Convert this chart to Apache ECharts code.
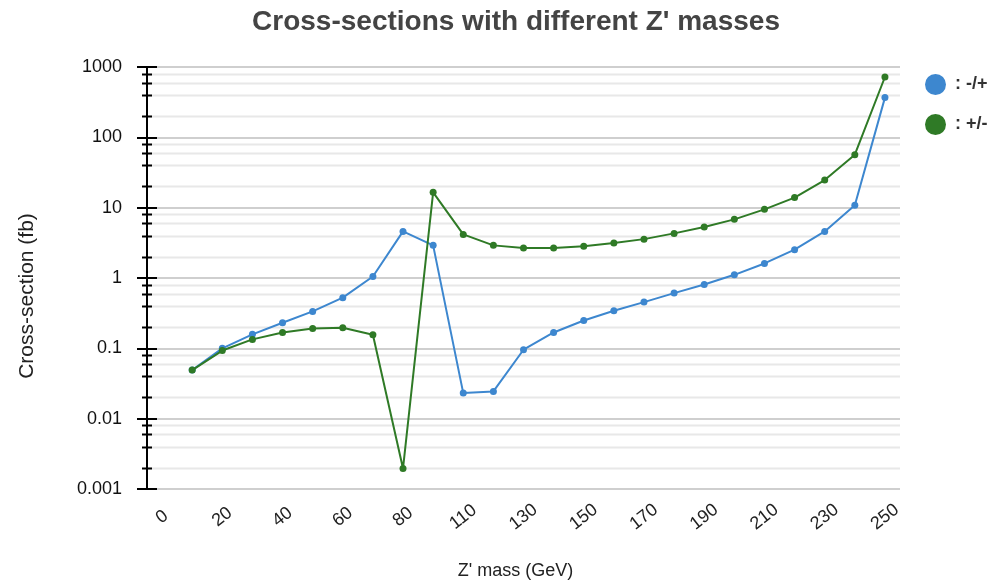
<!DOCTYPE html>
<html>
<head>
<meta charset="utf-8">
<script src="https://cdn.jsdelivr.net/npm/echarts@6/dist/echarts.min.js"></script>
<style>html,body{margin:0;padding:0;background:#fff}#c{width:1000px;height:586px}</style>
</head>
<body>
<div id="c"></div>
<script>
const categories = ['0','10','20','30','40','50','60','70','80','90','110','120','130','140','150','160','170','180','190','200','210','220','230','240','250'];
const seriesMinusPlus = ['-', 0.049, 0.10, 0.158, 0.231, 0.335, 0.525, 1.05, 4.6, 2.91, 0.0231, 0.0244, 0.0955, 0.168, 0.249, 0.343, 0.454, 0.61, 0.81, 1.11, 1.61, 2.53, 4.6, 10.8, 367];
const seriesPlusMinus = ['-', 0.049, 0.093, 0.134, 0.168, 0.192, 0.196, 0.156, 0.00196, 16.5, 4.17, 2.91, 2.66, 2.66, 2.82, 3.14, 3.57, 4.31, 5.3, 6.82, 9.46, 13.9, 24.7, 56.7, 721];
const minorTickValues = [];
[0.001, 0.01, 0.1, 1, 10, 100].forEach(d => [2, 4, 6, 8].forEach(m => minorTickValues.push(+(d * m).toPrecision(3))));

const GRID = {left: 147, right: 100, top: 67, bottom: 97};
const FONT = 'Liberation Sans';
const chart = echarts.init(document.getElementById('c'), null, {renderer: 'canvas'});
const logAxisBase = {type: 'log', min: 0.001, max: 1000, logBase: 10, position: 'left'};
chart.setOption({
  animation: false,
  textStyle: {fontFamily: FONT},
  title: {
    text: "Cross-sections with different Z' masses",
    left: 511, top: 3, textAlign: 'center',
    textStyle: {fontFamily: FONT, fontSize: 28, fontWeight: 'bold', color: '#444'}
  },
  legend: {
    orient: 'vertical', left: 920, top: 69, itemGap: 19,
    icon: 'circle', itemWidth: 21, itemHeight: 21,
    textStyle: {fontFamily: FONT, fontSize: 18, fontWeight: 'bold', color: '#333', padding: [0, 0, 0, 4]}
  },
  grid: GRID,
  xAxis: {
    type: 'category', data: categories, boundaryGap: true,
    name: "Z' mass (GeV)", nameLocation: 'middle', nameGap: 73,
    nameTextStyle: {fontFamily: FONT, fontSize: 18, color: '#222', padding: [0, 16, 0, 0]},
    axisLine: {show: false}, axisTick: {show: false},
    axisLabel: {interval: 1, rotate: 38, margin: 28, align: 'center', verticalAlign: 'middle',
      fontFamily: FONT, fontSize: 18, color: '#222'},
    splitLine: {show: false}
  },
  yAxis: [
    Object.assign({}, logAxisBase, {
      name: 'Cross-section (fb)', nameLocation: 'middle', nameGap: 109,
      nameTextStyle: {fontFamily: FONT, fontSize: 21, color: '#222', padding: [0, 36, 0, 0]},
      axisLine: {show: true, lineStyle: {color: '#000', width: 2}},
      axisTick: {show: true, inside: false, length: 10, lineStyle: {color: '#000', width: 2}},
      axisLabel: {margin: 25, fontFamily: FONT, fontSize: 18, color: '#111',
        formatter: v => String(+v.toPrecision(3))},
      splitLine: {show: true, lineStyle: {color: '#cfcfcf', width: 2}}
    }),
    Object.assign({}, logAxisBase, {
      axisLine: {show: false},
      axisTick: {show: true, inside: true, length: 10, lineStyle: {color: '#000', width: 2}},
      axisLabel: {show: false}, splitLine: {show: false}
    })
  ],
  series: [
    {name: ': -/+', type: 'line', data: seriesMinusPlus, yAxisIndex: 0,
     symbol: 'circle', symbolSize: 7, color: '#3d87cf',
     lineStyle: {width: 2, color: '#3d87cf'}, itemStyle: {color: '#3d87cf'}, z: 3},
    {name: ': +/-', type: 'line', data: seriesPlusMinus, yAxisIndex: 0,
     symbol: 'circle', symbolSize: 7, color: '#2f7a26',
     lineStyle: {width: 2, color: '#2f7a26'}, itemStyle: {color: '#2f7a26'}, z: 4}
  ]
});

// minor ticks + minor grid lines at 2,4,6,8 x 10^k, positioned through the axis scale
const axisX = GRID.left;
const rightX = 1000 - GRID.right;
const elements = [];
minorTickValues.forEach(v => {
  const y = Math.round(chart.convertToPixel({yAxisIndex: 0}, v)) + 0.5;
  elements.push({type: 'line', z: -1, silent: true,
    shape: {x1: axisX, y1: y, x2: rightX, y2: y}, style: {stroke: '#e8e8e8', lineWidth: 2}});
  elements.push({type: 'line', z: 10, silent: true,
    shape: {x1: axisX - 5, y1: y, x2: axisX + 5, y2: y}, style: {stroke: '#000', lineWidth: 2}});
});
chart.setOption({graphic: {elements: elements}});
</script>
</body>
</html>
